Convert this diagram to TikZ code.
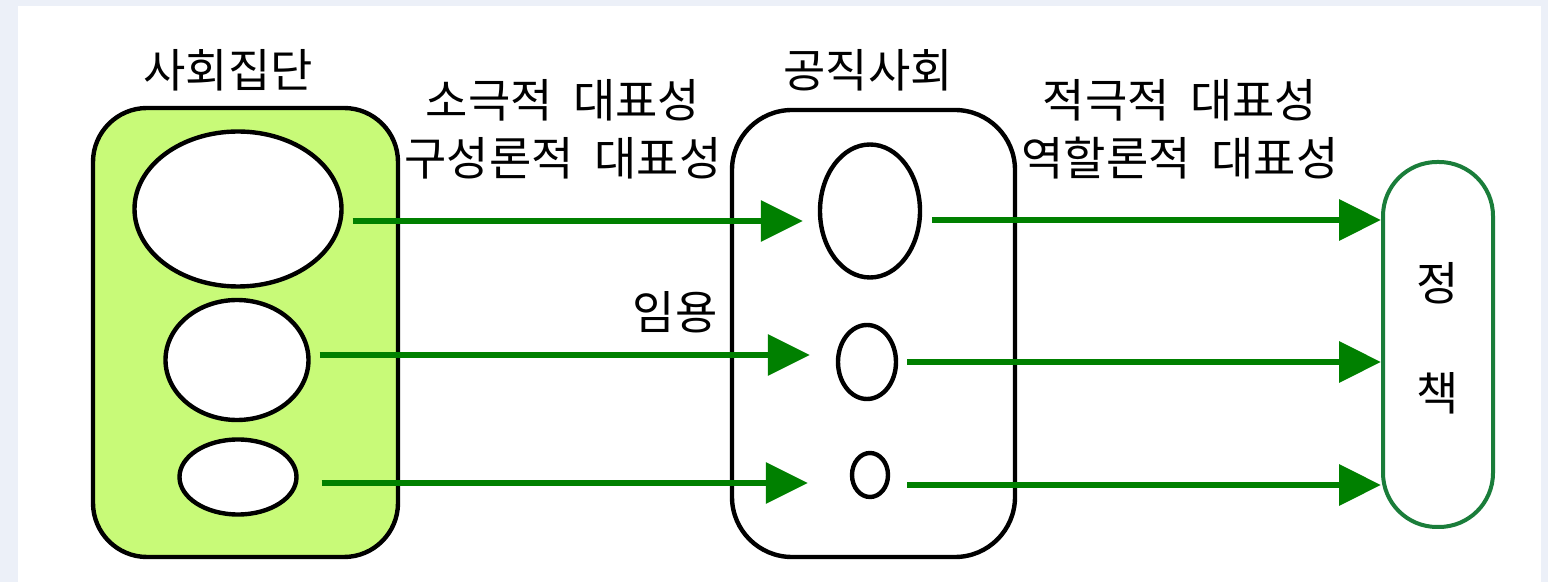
\documentclass[tikz,border=0pt]{standalone}
\usepackage{fontspec}
\setmainfont{Noto Sans CJK KR}
\usetikzlibrary{arrows.meta,shapes.geometric}
\definecolor{panelbg}{HTML}{ECF0F8}
\definecolor{groupfill}{HTML}{C8FA78}
\definecolor{flowgreen}{HTML}{008000}
\definecolor{policyline}{HTML}{1A7D3A}

\begin{document}
\begin{tikzpicture}[x=0.5pt,y=-0.5pt,
    label text/.style={font=\fontsize{23}{29}\selectfont,align=center,inner sep=0pt},
    box node/.style={draw,line width=2.2pt,rounded corners=27pt,minimum width=152.5pt,minimum height=224.5pt,inner sep=0pt},
    member node/.style={ellipse,draw,fill=white,line width=2.2pt,inner sep=0pt},
    flow/.style={-{Triangle[length=21pt,width=20pt]},line width=3.2pt,flowgreen}]
    \fill[panelbg] (0,0) rectangle (1548,582);
    \fill[white] (18,6) rectangle (1541,582);
    \useasboundingbox (0,0) rectangle (1548,582);
    % containers
    \node[box node,fill=groupfill] (groups) at (245.5,332.5) {};
    \node[box node,minimum width=141.5pt,minimum height=223.5pt,rounded corners=30pt] (office) at (873.5,333.5) {};
    \node[draw=policyline,line width=2pt,rounded corners=27pt,minimum width=55pt,minimum height=182.5pt,inner sep=0pt] (policy) at (1438,344.5) {};
    % members
    \node[member node,minimum width=103.5pt,minimum height=77.5pt] (g1) at (238,209) {};
    \node[member node,minimum width=71.5pt,minimum height=60pt] (g2) at (237,360) {};
    \node[member node,minimum width=58.5pt,minimum height=37.5pt] (g3) at (238,477) {};
    \node[member node,minimum width=50pt,minimum height=66.5pt] (o1) at (870,211) {};
    \node[member node,minimum width=29pt,minimum height=37pt] (o2) at (867,362) {};
    \node[member node,minimum width=18pt,minimum height=22pt] (o3) at (870,475) {};
    % labels
    \node[label text] (groups title) at (228,70) {사회집단};
    \node[label text] (office title) at (868,70) {공직사회};
    \node[label text] (passive) at (563,129) {소극적\hspace{.45em}대표성\\구성론적\hspace{.45em}대표성};
    \node[label text] (active) at (1180,129) {적극적\hspace{.45em}대표성\\역할론적\hspace{.45em}대표성};
    \node[label text] (appoint) at (675,312) {임용};
    \node[label text,font=\fontsize{23}{55}\selectfont] (policy text) at (1438,338) {정\\책};
    % flows
    \draw[flow] ([shift={(9,12)}]g1.east) -- ([shift={(-15,12)}]g1.east -| o1.west);
    \draw[flow] ([shift={(9,-5)}]g2.east) -- ([shift={(-26,-5)}]g2.east -| o2.west);
    \draw[flow] ([shift={(23,6)}]g3.east) -- ([shift={(-42,6)}]g3.east -| o3.west);
    \draw[flow] ([shift={(10,9)}]o1.east) -- ([shift={(0,9)}]o1.east -| policy.west);
    \draw[flow] ([shift={(9,0)}]o2.east) -- (o2.east -| policy.west);
    \draw[flow] ([shift={(17,10)}]o3.east) -- ([shift={(0,10)}]o3.east -| policy.west);
\end{tikzpicture}
\end{document}
